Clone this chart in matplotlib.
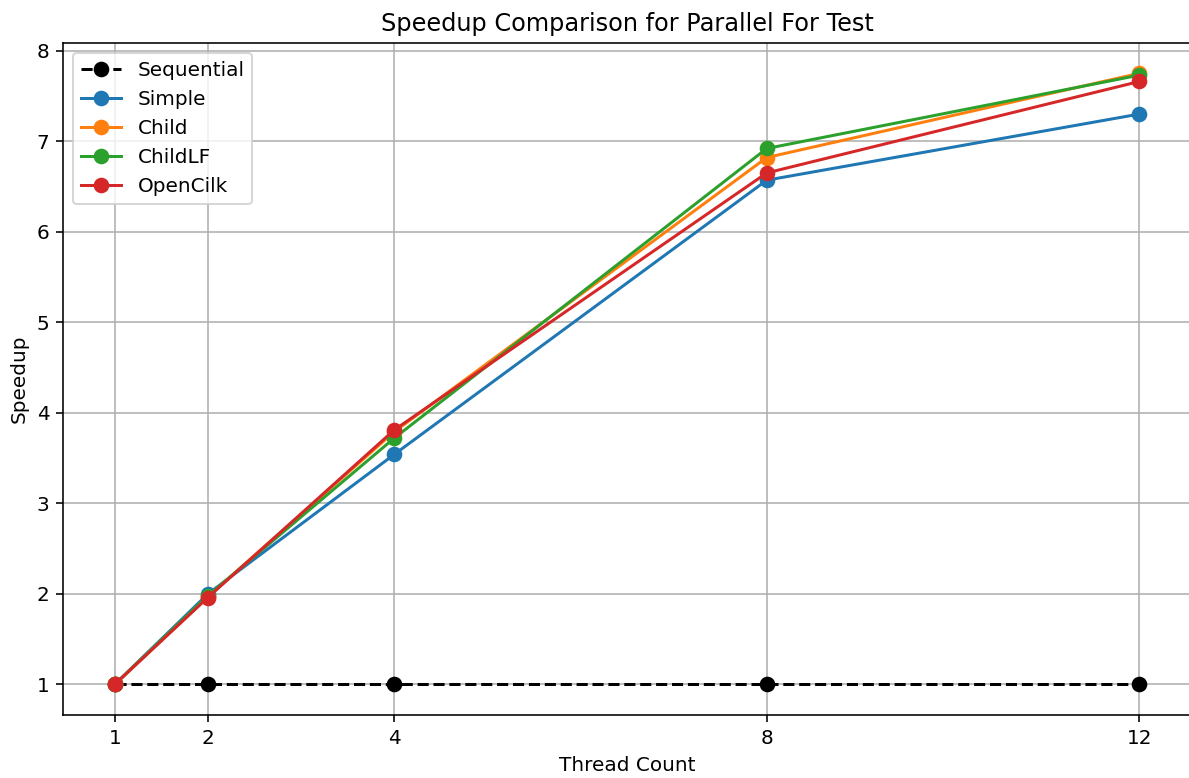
import matplotlib.pyplot as plt

threads = [1, 2, 4, 8, 12]
sequential = [1, 1, 1, 1, 1]
simple = [1, 2.00, 3.54, 6.57, 7.30]
child = [1, 1.97, 3.79, 6.82, 7.75]
child_lf = [1, 1.98, 3.72, 6.92, 7.73]
opencilk = [1, 1.96, 3.81, 6.65, 7.66]

dpi = 144
fig = plt.figure(figsize=(1189 / dpi, 778 / dpi), dpi=dpi)
ax = fig.add_axes([0.0534, 0.081, 0.9479, 0.864])

ms = 6.8
ax.plot(threads, sequential, 'k--o', label='Sequential', markersize=ms)
ax.plot(threads, simple, marker='o', label='Simple', markersize=ms)
ax.plot(threads, child, marker='o', label='Child', markersize=ms)
ax.plot(threads, child_lf, marker='o', label='ChildLF', markersize=ms)
ax.plot(threads, opencilk, marker='o', label='OpenCilk', markersize=ms)

ax.set_xticks(threads)
ax.set_title('Speedup Comparison for Parallel For Test')
ax.set_xlabel('Thread Count')
ax.set_ylabel('Speedup')
ax.legend(loc='upper left')
ax.grid(True)

fig.savefig('out.png', dpi=dpi)
